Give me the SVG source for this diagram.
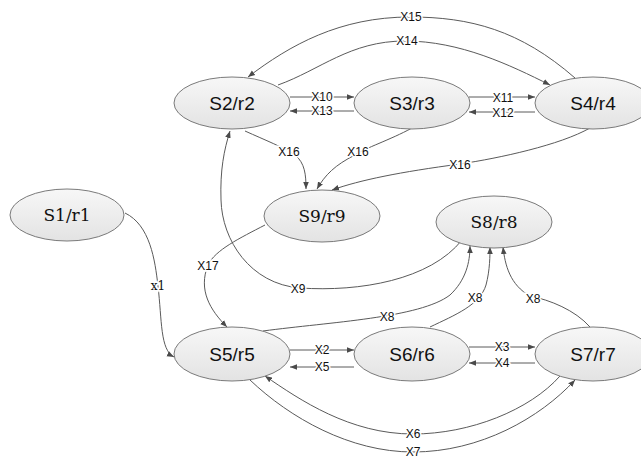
<svg xmlns="http://www.w3.org/2000/svg" width="641" height="459" viewBox="0 0 641 459">
<style>
.node ellipse{fill:url(#g);stroke:#7a7a7a;stroke-width:1}
.ns{font-family:"Liberation Sans",Arial,sans-serif;font-size:19px;fill:#111;text-anchor:middle}
.nr{font-size:17px;fill:#111;text-anchor:middle}
.edges path{fill:none;stroke:#5a5a5a;stroke-width:1;marker-end:url(#a)}
.lb{font-family:"Liberation Sans",Arial,sans-serif;font-size:12px;fill:#111;text-anchor:middle;stroke:#fff;stroke-width:3;paint-order:stroke}
.lr{font-size:12px;fill:#111;text-anchor:middle;stroke:#fff;stroke-width:3;paint-order:stroke}
</style>
<defs>
<linearGradient id="g" x1="0" y1="0" x2="0" y2="1">
<stop offset="0" stop-color="#f7f7f7"/>
<stop offset="1" stop-color="#e3e3e3"/>
</linearGradient>
<marker id="a" viewBox="0 0 10 10" refX="10" refY="5" markerWidth="7" markerHeight="7" orient="auto" markerUnits="userSpaceOnUse">
<path d="M0,1 L10,5 L0,9 z" fill="#4a4a4a"/>
</marker>
</defs>
<rect width="641" height="459" fill="#fff"/>
<g class="edges">
<path d="M290,97 L354,97"/>
<path d="M354,111 L290,111"/>
<path d="M469,97 L535,97"/>
<path d="M535,112 L469,112"/>
<path d="M575,78 C520,30 470,17 410,17 C340,17 290,45 248,77"/>
<path d="M278,85 C320,70 350,41 405,41 C460,41 510,65 550,85"/>
<path d="M245,131 C265,140 285,148 295,155 C305,163 306,175 306,189"/>
<path d="M412,128 C390,140 365,148 355,155 C335,165 325,175 317,189"/>
<path d="M590,128 C560,145 500,158 460,164 C400,172 360,180 332,190"/>
<path d="M462,240 C430,280 360,292 300,288 C250,284 222,240 221,200 C220,170 224,150 230,131"/>
<path d="M263,331 C330,322 420,318 450,295 C466,280 470,262 470,246"/>
<path d="M430,327 C455,315 480,305 486,285 C490,270 490,255 490,247"/>
<path d="M590,327 C575,310 550,300 530,296 C510,285 505,265 503,247"/>
<path d="M265,225 C240,238 215,250 208,265 C198,290 210,310 227,327"/>
<path d="M125,213 C150,225 155,260 158,286 C162,320 160,350 174,357"/>
<path d="M290,350 L354,350"/>
<path d="M354,367 L290,367"/>
<path d="M469,347 L535,347"/>
<path d="M535,363 L469,363"/>
<path d="M560,376 C530,410 470,434 413,434 C350,434 300,400 265,376"/>
<path d="M250,380 C290,418 350,452 413,452 C480,452 540,418 575,380"/>
</g>
<g class="labels">
<text class="lb" x="322" y="101">X10</text>
<text class="lb" x="322" y="115">X13</text>
<text class="lb" x="503" y="102">X11</text>
<text class="lb" x="503" y="117">X12</text>
<text class="lb" x="411" y="21">X15</text>
<text class="lb" x="407" y="45">X14</text>
<text class="lb" x="289" y="156">X16</text>
<text class="lb" x="358" y="156">X16</text>
<text class="lb" x="460" y="169">X16</text>
<text class="lb" x="298" y="293">X9</text>
<text class="lb" x="387" y="321">X8</text>
<text class="lb" x="475" y="302">X8</text>
<text class="lb" x="533" y="303">X8</text>
<text class="lb" x="208" y="270">X17</text>
<text class="lr" x="158" y="290" font-family="DejaVu Serif">x1</text>
<text class="lb" x="322" y="354">X2</text>
<text class="lb" x="322" y="371">X5</text>
<text class="lb" x="502" y="351">X3</text>
<text class="lb" x="502" y="367">X4</text>
<text class="lb" x="413" y="438">X6</text>
<text class="lb" x="413" y="456">X7</text>
</g>
<g id="S1" class="node"><ellipse cx="67" cy="215" rx="57" ry="26"/><text class="nr" x="67" y="221" font-family="DejaVu Serif">S1/r1</text></g>
<g id="S2" class="node"><ellipse cx="232" cy="103" rx="58" ry="26"/><text class="ns" x="232" y="110">S2/r2</text></g>
<g id="S3" class="node"><ellipse cx="412" cy="103" rx="58" ry="26"/><text class="ns" x="412" y="110">S3/r3</text></g>
<g id="S4" class="node"><ellipse cx="593" cy="103" rx="58" ry="26"/><text class="ns" x="593" y="110">S4/r4</text></g>
<g id="S9" class="node"><ellipse cx="322" cy="216" rx="58" ry="26"/><text class="nr" x="322" y="222" font-family="DejaVu Serif">S9/r9</text></g>
<g id="S8" class="node"><ellipse cx="494" cy="222" rx="58" ry="26"/><text class="nr" x="494" y="228" font-family="DejaVu Serif">S8/r8</text></g>
<g id="S5" class="node"><ellipse cx="232" cy="354" rx="58" ry="27"/><text class="ns" x="232" y="361">S5/r5</text></g>
<g id="S6" class="node"><ellipse cx="412" cy="354" rx="58" ry="27"/><text class="ns" x="412" y="361">S6/r6</text></g>
<g id="S7" class="node"><ellipse cx="593" cy="354" rx="58" ry="27"/><text class="ns" x="593" y="361">S7/r7</text></g>
</svg>
